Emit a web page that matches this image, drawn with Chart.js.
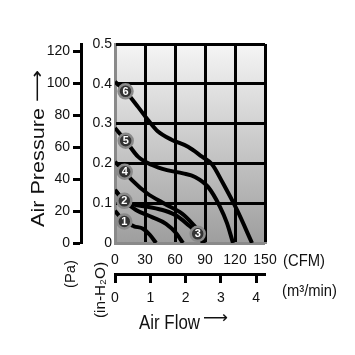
<!DOCTYPE html>
<html><head><meta charset="utf-8">
<script src="https://cdn.jsdelivr.net/npm/chart.js@4"></script>
<style>html,body{margin:0;padding:0;background:#fff;}canvas{display:block;}</style>
</head><body>
<canvas id="c" width="355" height="355"></canvas>
<script>
// ---- tick labels ----
const cfmTicks = [0, 30, 60, 90, 120, 150];
const m3minTicks = [0, 1, 2, 3, 4];
const inH2OTicks = [0, 0.1, 0.2, 0.3, 0.4, 0.5];
const paTicks = [0, 20, 40, 60, 80, 100, 120];

// ---- P-Q curves (x: CFM, y: inch H2O) ----
const curve1X = [0, 9.3, 19, 28, 35, 41];
const curve1Y = [0.081, 0.054, 0.042, 0.036, 0.020, 0];
const curve2X = [0, 9.3, 21, 37, 51, 61, 68];
const curve2Y = [0.133, 0.106, 0.083, 0.065, 0.048, 0.025, 0];
const curve3X = [0, 9.3, 20, 35, 50, 62, 72, 82.7, 88];
const curve3Y = [0.133, 0.106, 0.096, 0.090, 0.081, 0.068, 0.048, 0.023, 0];
const curve4X = [0, 9.7, 17, 32, 50, 67, 78, 85, 90];
const curve4Y = [0.204, 0.179, 0.158, 0.125, 0.098, 0.074, 0.047, 0.025, 0];
const curve5X = [0, 10.7, 23, 37, 52, 68, 80, 93, 105, 112, 118];
const curve5Y = [0.289, 0.257, 0.217, 0.196, 0.183, 0.175, 0.166, 0.141, 0.091, 0.050, 0];
const curve6X = [0, 10.5, 23, 33, 43, 57, 73, 87, 97, 108, 122, 137];
const curve6Y = [0.405, 0.381, 0.342, 0.309, 0.280, 0.259, 0.242, 0.217, 0.198, 0.150, 0.083, 0];

// ---- numbered curve markers ----
const markerLabels = ['1', '2', '3', '4', '5', '6'];
const markerX = [9.3, 9.3, 82.7, 9.7, 10.7, 10.5];
const markerY = [0.054, 0.106, 0.023, 0.179, 0.257, 0.381];

// unit conversions for secondary axes
const CFM_PER_M3MIN = 35.3147;
const PA_PER_INH2O = 249.089;
const CFM_MAX = 150;
const INH2O_MAX = 0.5;

const FONT = "'Liberation Sans', 'DejaVu Sans', Arial, sans-serif";
const GRAY = '#8a8a8a';

function pts(xs, ys) { return xs.map((x, i) => ({x: x, y: ys[i]})); }
function curve(xs, ys) {
  return { data: pts(xs, ys), borderColor: '#000', borderWidth: 4, pointRadius: 0,
    cubicInterpolationMode: 'monotone', fill: false, order: 1, xAxisID: 'x', yAxisID: 'y' };
}
function setTicks(arr) { return function (s) { s.ticks = arr.map(v => ({value: v})); }; }

const bgPlugin = {
  id: 'bg',
  beforeDraw(chart) {
    const {ctx, chartArea: a} = chart;
    const g = ctx.createLinearGradient(0, a.top, 0, a.bottom);
    g.addColorStop(0, '#f5f5f5');
    g.addColorStop(1, '#9e9e9e');
    ctx.save();
    ctx.fillStyle = g;
    ctx.fillRect(a.left, a.top, a.right - a.left, a.bottom - a.top);
    ctx.restore();
  }
};

const markerTextPlugin = {
  id: 'markerText',
  afterDatasetsDraw(chart) {
    const ctx = chart.ctx;
    const meta = chart.getDatasetMeta(0);
    ctx.save();
    ctx.font = 'bold 11px ' + FONT;
    ctx.fillStyle = '#fff';
    ctx.textAlign = 'center';
    ctx.textBaseline = 'middle';
    meta.data.forEach((p, i) => ctx.fillText(markerLabels[i], p.x, p.y + 0.5));
    ctx.restore();
  }
};

function fitText(ctx, text, cx, cy, len, px, rot, sy) {
  ctx.save();
  ctx.font = px + 'px ' + FONT;
  const w = ctx.measureText(text).width;
  ctx.translate(cx, cy);
  ctx.rotate(rot);
  ctx.scale(len / w, sy);
  ctx.textAlign = 'center';
  ctx.textBaseline = 'middle';
  ctx.fillStyle = '#111';
  ctx.fillText(text, 0, 0);
  ctx.restore();
}

const titlePlugin = {
  id: 'titles',
  afterDraw(chart) {
    const ctx = chart.ctx;
    const R = -Math.PI / 2;
    fitText(ctx, 'Air Pressure', 39, 167.5, 119, 18, R, 1);
    fitText(ctx, '\u27F6', 38, 86, 32, 18, R, 1);
    fitText(ctx, '(Pa)', 71, 274, 28, 15, R, 1);
    fitText(ctx, '(in-H\u2082O)', 100.5, 290, 56, 15, R, 1);
    fitText(ctx, '(CFM)', 304, 261, 42, 15, 0, 1.1);
    fitText(ctx, '(m\u00B3/min)', 309.5, 291, 55, 15, 0, 1.1);
    fitText(ctx, 'Air Flow', 169.5, 324, 61, 17, 0, 1.15);
    fitText(ctx, '\u27F6', 215.5, 318, 25, 17, 0, 1);
  }
};

const tickFont = {family: FONT, size: 14};

new Chart(document.getElementById('c'), {
  type: 'line',
  data: {
    datasets: [
      { data: pts(markerX, markerY), showLine: false, pointRadius: 7, pointBorderWidth: 2.5,
        pointBackgroundColor: '#333', pointBorderColor: GRAY, order: 0, xAxisID: 'x', yAxisID: 'y' },
      curve(curve1X, curve1Y), curve(curve2X, curve2Y), curve(curve3X, curve3Y),
      curve(curve4X, curve4Y), curve(curve5X, curve5Y), curve(curve6X, curve6Y)
    ]
  },
  options: {
    responsive: false,
    animation: false,
    events: [],
    layout: {padding: {left: 0, right: 90, top: 44, bottom: 51}},
    plugins: {legend: {display: false}, tooltip: {enabled: false}},
    scales: {
      x: {
        type: 'linear', position: 'bottom', min: 0, max: CFM_MAX, weight: 0,
        afterBuildTicks: setTicks(cfmTicks),
        afterFit(s) { s.height = 31; },
        ticks: {font: tickFont, color: '#111', padding: 9, maxRotation: 0, autoSkip: false},
        grid: {color: c => (c.tick && c.tick.value === 0) ? GRAY : '#000', lineWidth: 3, drawTicks: false},
        border: {display: true, color: GRAY, width: 2}
      },
      xm: {
        type: 'linear', position: 'bottom', min: 0, max: CFM_MAX / CFM_PER_M3MIN, weight: 1,
        afterBuildTicks: setTicks(m3minTicks),
        afterFit(s) { s.height = 30; },
        ticks: {font: tickFont, color: '#111', padding: 7, maxRotation: 0, autoSkip: false},
        grid: {drawOnChartArea: false, drawTicks: true, tickLength: 9, tickWidth: 3, tickColor: '#000', color: '#000'},
        border: {display: true, color: '#000', width: 3}
      },
      y: {
        type: 'linear', position: 'left', min: 0, max: INH2O_MAX, weight: 0,
        afterBuildTicks: setTicks(inH2OTicks),
        afterFit(s) { s.width = 34; },
        ticks: {font: tickFont, color: '#111', padding: 3},
        grid: {color: c => (c.tick && c.tick.value === 0) ? GRAY : '#000', lineWidth: 3, drawTicks: false},
        border: {display: true, color: GRAY, width: 2}
      },
      ypa: {
        type: 'linear', position: 'left', min: 0, max: INH2O_MAX * PA_PER_INH2O, weight: 1,
        afterBuildTicks: setTicks(paTicks),
        afterFit(s) { s.width = 81; },
        ticks: {font: tickFont, color: '#111', padding: 3},
        grid: {drawOnChartArea: false, drawTicks: true, tickLength: 8, tickWidth: 3, tickColor: '#000', color: '#000'},
        border: {display: true, color: '#000', width: 3}
      }
    }
  },
  plugins: [bgPlugin, markerTextPlugin, titlePlugin]
});
</script>
</body></html>
